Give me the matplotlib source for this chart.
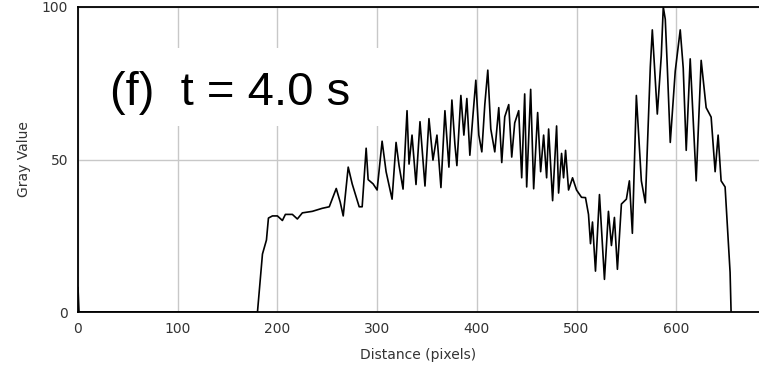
import matplotlib.pyplot as plt
from matplotlib.patches import Rectangle

# profile (distance in pixels, gray value)
distance = [0, 1, 180, 185, 189, 191, 195, 200, 205, 208, 215, 220, 225, 235, 245, 252,
            259, 263, 266, 271, 275, 282, 285, 289, 291, 296, 300, 305, 309, 315, 319, 322,
            326, 330, 332, 335, 339, 343, 348, 352, 356, 360, 364, 368, 372, 375, 378,
            380, 384, 387, 390, 393, 396, 399, 402, 405, 408, 411, 414, 418, 422, 425,
            428, 432, 435, 438, 442, 445, 448, 450, 454, 457, 461, 464, 467, 470, 472,
            476, 480, 482, 485, 487, 489, 492, 496, 500, 505, 509, 512,
            514, 516, 519, 523, 528, 532, 535, 538, 541, 545, 550, 553, 556, 560, 565,
            569, 574, 576, 579, 581, 585, 587, 589, 591, 594, 599, 604, 607, 610, 614,
            620, 625, 630, 635, 639, 642, 645, 649, 652, 654, 655]
gray = [8, 0, 0, 19, 23.6, 30.8, 31.5, 31.5, 30, 32, 32, 30.5, 32.5, 33, 34, 34.5,
        40.5, 36, 31.5, 47.5, 42, 34.5, 34.5, 53.7, 43.4, 42, 40, 56, 46, 37, 55.6, 48,
        40.3, 66, 48.5, 58, 41.8, 62.4, 41.3, 63.4, 49.8, 58, 40.8, 66, 47.5, 69.5, 55,
        48, 71, 58, 70, 51.4, 64, 76, 58, 52.5, 68, 79.3, 60, 52.5, 67, 49,
        64, 68, 50.8, 62, 66, 44, 71.5, 41, 73, 40.4, 65.4, 46, 58, 44, 60,
        36.5, 61, 39, 52, 44, 53, 40, 44, 40, 37.6, 37.5, 32,
        22.4, 29.5, 13.4, 38.5, 10.7, 33, 21.8, 31, 14, 35.4, 37, 43, 25.8, 71, 43,
        35.8, 80.4, 92.5, 75.6, 64.9, 84, 100, 96, 80.6, 55.6, 79, 92.5, 80, 53, 83,
        43, 82.5, 67, 63.9, 46, 58, 43, 41, 24, 13, 0]

x_ticks = [0, 100, 200, 300, 400, 500, 600]
y_ticks = [0, 50, 100]
label = "(f)  t = 4.0 s"

fig = plt.figure(figsize=(7.59, 3.67), dpi=100)
ax = fig.add_axes([78 / 759, 55 / 367, 1 - 78 / 759, 305 / 367])

ax.plot(distance, gray, color='black', lw=1.2, zorder=3)
ax.set_xlim(0, 683)
ax.set_ylim(0, 100)
ax.set_xticks(x_ticks)
ax.set_yticks(y_ticks)
ax.set_axisbelow(True)
ax.grid(True, color='#c8c8c8', lw=1)
ax.tick_params(length=0, labelsize=10, labelcolor='#333333', pad=7)
for s in ['left', 'top', 'bottom']:
    ax.spines[s].set_linewidth(1.3)
ax.spines['right'].set_visible(False)

ax.set_xlabel("Distance (pixels)", fontsize=10, color='#333333', labelpad=9)
ax.set_ylabel("Gray Value", fontsize=10, color='#333333', labelpad=8)

# white box behind the annotation hides the grid
ax.add_patch(Rectangle((17, 61), 290, 25.6, facecolor='white', edgecolor='none', zorder=1))
ax.text(32, 67.8, label, fontsize=34, family='Liberation Sans', zorder=4)

fig.savefig("out.png", dpi=100)
